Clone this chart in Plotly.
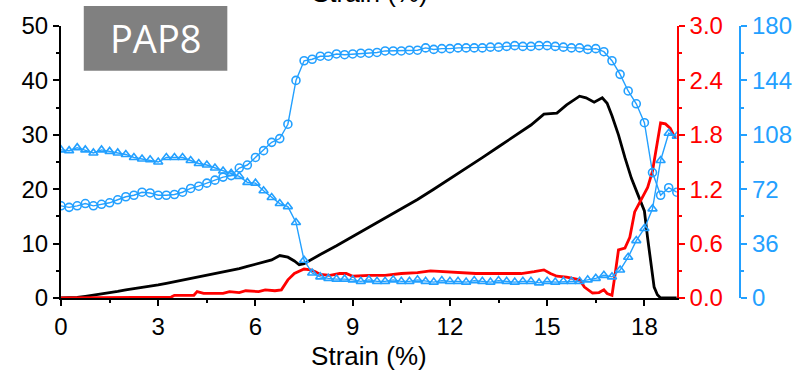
import plotly.graph_objects as go

# Stress-strain curve (left axis, 0-50)
stress_strain = [0.0, 0.25, 0.5, 0.75, 1.0, 1.25, 1.5, 1.75, 2.0, 2.25, 2.5, 2.75, 3.0, 3.25, 3.5,
                 3.75, 4.0, 4.25, 4.5, 4.75, 5.0, 5.25, 5.5, 5.75, 6.0, 6.25, 6.5, 6.75, 7.0, 7.2,
                 7.35, 7.5, 7.75, 8.0, 8.5, 9.0, 9.5, 10.0, 10.5, 11.0, 11.5, 12.0, 12.5, 13.0,
                 13.5, 14.0, 14.5, 14.9, 15.3, 15.6, 16.0, 16.2, 16.45, 16.7, 16.85, 17.0, 17.2,
                 17.4, 17.6, 17.8, 18.0, 18.1, 18.2, 18.3, 18.4, 18.5, 19.0]
stress = [0.0, 0.02, 0.1, 0.3, 0.5, 0.7, 0.9, 1.2, 1.5, 1.7, 2.0, 2.2, 2.4, 2.7, 3.0,
          3.3, 3.5, 3.8, 4.1, 4.4, 4.8, 5.1, 5.4, 5.8, 6.2, 6.5, 7.0, 7.8, 7.5, 6.8,
          6.1, 6.3, 7.2, 8.0, 9.6, 11.3, 13.0, 14.6, 16.3, 18.1, 20.0, 21.9, 23.8, 25.8,
          27.8, 29.8, 31.8, 33.8, 34.0, 35.5, 37.1, 36.8, 36.0, 36.8, 35.8, 33.5, 30.0,
          25.8, 22.0, 19.0, 16.0, 11.0, 6.0, 2.0, 0.6, 0.0, 0.0]

# Red curve (first right axis, 0-3.0)
red_strain = [0.0, 3.4, 3.5, 4.1, 4.2, 4.4, 5.0, 5.2, 5.5, 5.7, 6.1, 6.3, 6.6, 6.8, 7.0, 7.2,
              7.5, 7.7, 7.85, 8.0, 8.3, 8.6, 8.8, 9.0, 9.5, 10.0, 10.5, 11.0, 11.4, 11.8,
              12.3, 12.8, 13.3, 13.8, 14.2, 14.6, 14.9, 15.1, 15.3, 15.6, 16.0, 16.15, 16.4,
              16.6, 16.75, 16.85, 17.0, 17.1, 17.2, 17.4, 17.55, 17.7, 17.9, 18.1, 18.25,
              18.4, 18.5, 18.65, 18.8, 18.95]
red_value = [0.0, 0.01, 0.03, 0.03, 0.07, 0.05, 0.05, 0.07, 0.06, 0.08, 0.07, 0.09, 0.08, 0.09,
             0.2, 0.27, 0.32, 0.31, 0.29, 0.26, 0.25, 0.27, 0.27, 0.24, 0.25, 0.25, 0.27,
             0.28, 0.30, 0.29, 0.28, 0.27, 0.27, 0.27, 0.27, 0.29, 0.31, 0.27, 0.24, 0.23,
             0.2, 0.12, 0.055, 0.06, 0.09, 0.05, 0.03, 0.27, 0.53, 0.55, 0.67, 0.95, 1.08,
             1.22, 1.4, 1.74, 1.93, 1.92, 1.87, 1.76]

# Blue curves (second right axis, 0-180), sampled every 0.25 % strain
blue_strain = [i * 0.25 for i in range(77)]
blue_circles = [61, 60, 61, 62.5, 61, 62, 63, 65, 67, 68, 70, 69.5, 68, 68, 68.5, 70,
                72.5, 74, 76, 78, 80, 81, 86, 88, 93, 97.5, 103, 105.5, 115, 144, 157, 158,
                160, 160, 161.5, 161, 161.5, 162, 162, 162.5, 163.5, 163.5, 163.5, 164, 164,
                165.5, 164.5, 165, 165, 165.5, 165.5, 165.5, 165.5, 166, 166, 166.5, 167,
                166.5, 166.5, 167, 167, 166.5, 166, 165.5, 165.5, 164.5, 165, 163, 157, 148,
                137, 128.5, 116, 83, 68, 73, 70]
blue_triangles = [98, 97.5, 99.5, 98, 96, 98, 97, 96, 95, 93, 92, 91.5, 90, 93, 93, 93,
                  91, 89, 88, 86, 84, 82.5, 80.5, 76.5, 76, 71, 66.5, 62.5, 60.5, 50, 25,
                  16.5, 14, 13, 12.5, 12.5, 12, 11, 12, 11, 11, 12, 11, 11, 12, 11, 10.5,
                  11.5, 11, 11, 10.5, 11.5, 11, 10.5, 11.5, 11, 10.5, 11, 11, 10, 11, 10.5,
                  11, 11, 11, 12, 13, 15, 14, 18.5, 27, 38, 46, 59, 91, 109, 107]

x_ticks = [0, 3, 6, 9, 12, 15, 18]
left_ticks = [0, 10, 20, 30, 40, 50]
red_ticks = [0.0, 0.6, 1.2, 1.8, 2.4, 3.0]
blue_ticks = [0, 36, 72, 108, 144, 180]

RED = "#ff0000"
BLUE = "#23a0ff"
FONT = "Liberation Sans, Arial, sans-serif"

fig = go.Figure()
fig.add_trace(go.Scatter(x=stress_strain, y=stress, mode="lines",
                         line=dict(color="black", width=2.8), yaxis="y"))
fig.add_trace(go.Scatter(x=red_strain, y=red_value, mode="lines",
                         line=dict(color=RED, width=2.8), yaxis="y2"))
fig.add_trace(go.Scatter(x=blue_strain, y=blue_circles, mode="lines+markers",
                         line=dict(color=BLUE, width=1.4),
                         marker=dict(symbol="circle-open", size=8, color=BLUE,
                                     line=dict(width=1.6, color=BLUE)),
                         yaxis="y3"))
fig.add_trace(go.Scatter(x=blue_strain, y=blue_triangles, mode="lines+markers",
                         line=dict(color=BLUE, width=1.4),
                         marker=dict(symbol="triangle-up-open", size=8, color=BLUE,
                                     line=dict(width=1.6, color=BLUE)),
                         yaxis="y3"))

DOM_END = 622 / 703
BLUE_POS = 686 / 703

def axis_style(color, tickvals, fmt=None):
    d = dict(showgrid=False, zeroline=False, showline=True, linecolor=color, linewidth=2,
             ticks="outside", ticklen=6, tickwidth=2, tickcolor=color,
             tickvals=tickvals, tickfont=dict(family=FONT, size=24, color=color),
             minor=dict(ticks="outside", ticklen=3, tickwidth=1.5, tickcolor=color))
    if fmt:
        d["tickformat"] = fmt
    return d

xa = axis_style("black", x_ticks)
xa.update(range=[0, 19], domain=[0, DOM_END], minor=dict(ticks="outside", ticklen=3,
          tickwidth=1.5, tickcolor="black", dtick=1.5, tick0=0),
          title=dict(text="Strain (%)", font=dict(family=FONT, size=26, color="black"),
                     standoff=8))
ya = axis_style("black", left_ticks)
ya.update(range=[0, 50], minor=dict(ticks="outside", ticklen=3, tickwidth=1.5,
          tickcolor="black", dtick=5, tick0=0))
ya2 = axis_style(RED, red_ticks, ".1f")
ya2.update(range=[0, 3.0], overlaying="y", side="right", anchor="x",
           minor=dict(ticks="outside", ticklen=3, tickwidth=1.5, tickcolor=RED,
                      dtick=0.3, tick0=0))
ya3 = axis_style(BLUE, blue_ticks)
ya3.update(range=[0, 180], overlaying="y", side="right", anchor="free", position=BLUE_POS,
           minor=dict(ticks="outside", ticklen=3, tickwidth=1.5, tickcolor=BLUE,
                      dtick=18, tick0=0))

fig.update_layout(
    width=804, height=380,
    margin=dict(l=61, r=40, t=25, b=82),
    paper_bgcolor="white", plot_bgcolor="white",
    showlegend=False,
    xaxis=xa, yaxis=ya, yaxis2=ya2, yaxis3=ya3,
    shapes=[dict(type="rect", xref="paper", yref="paper",
                 x0=(84 - 61) / 703, x1=(229 - 61) / 703,
                 y0=(298 - 70) / 273, y1=(298 - 5) / 273,
                 fillcolor="#808080", line=dict(width=0), layer="above")],
    annotations=[
        dict(text="PAP8", xref="paper", yref="paper",
             x=(156.5 - 61) / 703, y=(298 - 37.5) / 273, xanchor="center", yanchor="middle",
             showarrow=False, font=dict(family="Open Sans, sans-serif", size=38, color="white")),
        # heading of the panel above, mostly outside the page
        dict(text="Strain (%)", xref="paper", yref="paper",
             x=(373 - 61) / 703, y=(298 - 9) / 273, xanchor="center", yanchor="bottom",
             showarrow=False, font=dict(family=FONT, size=26, color="black")),
    ],
)

fig.write_html("out.html")
